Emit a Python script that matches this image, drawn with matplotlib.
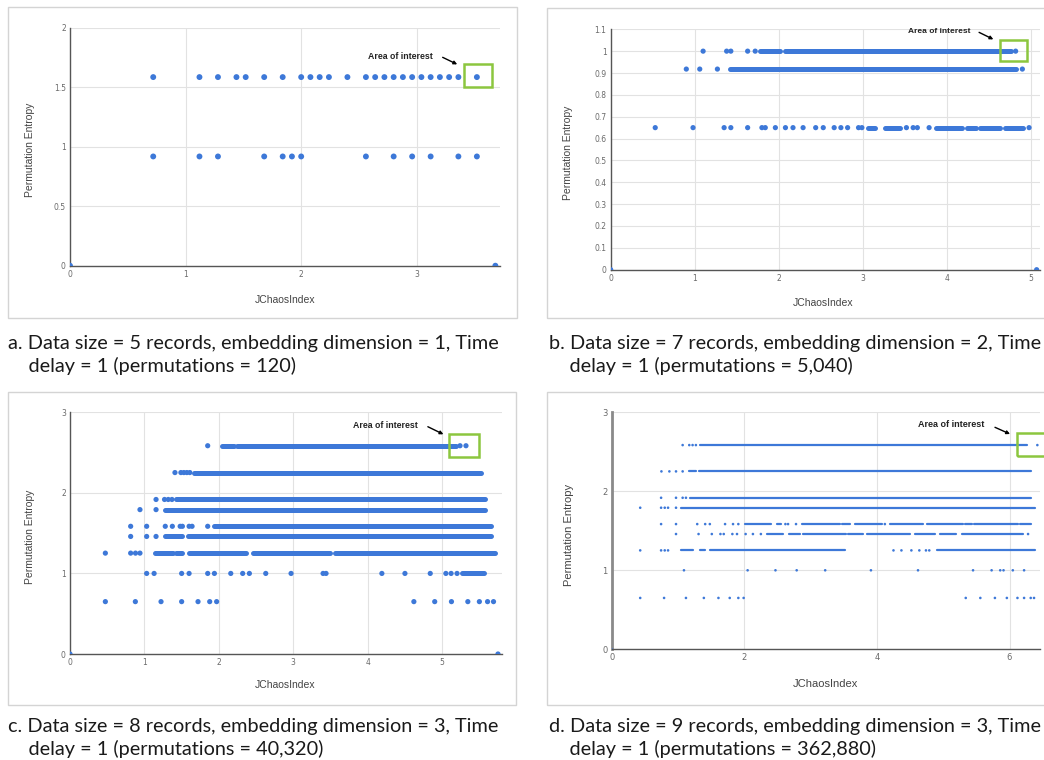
import matplotlib
matplotlib.use("Agg")
import matplotlib.pyplot as plt
from matplotlib.patches import Rectangle

W, H = 1044, 760
BLUE = "#3d78d8"
GREEN = "#8cc63f"
GRID = "#e2e2e2"

# Entropy levels (rows) -------------------------------------------------------
LV_A = [1.585, 0.918]
LV_B = [1.0, 0.918, 0.65]
LV_CD = [2.585, 2.252, 1.918, 1.792, 1.585, 1.459, 1.252, 1.0, 0.65]

# Panel a : isolated points per level
a_points = [
    [0.72, 1.12, 1.28, 1.44, 1.52, 1.68, 1.84, 2.00, 2.08, 2.16, 2.24, 2.40,
     2.56, 2.64, 2.72, 2.80, 2.88, 2.96, 3.04, 3.12, 3.20, 3.28, 3.36, 3.52],
    [0.72, 1.12, 1.28, 1.68, 1.84, 1.92, 2.00, 2.56, 2.80, 2.96, 3.12, 3.36, 3.52],
]
a_zero = [0.0, 3.68]

# Panel b : isolated points and dense runs per level
b_points = [
    [1.10, 1.38, 1.43, 1.63, 1.72, 4.82],
    [0.90, 1.06, 1.27, 4.90],
    [0.53, 0.98, 1.35, 1.43, 1.63, 1.80, 1.84, 1.96, 2.08, 2.17, 2.29, 2.44,
     2.53, 2.66, 2.74, 2.82, 2.95, 2.99, 3.52, 3.60, 3.65, 3.79, 4.98],
]
b_runs = [
    [(1.78, 2.02), (2.08, 4.76)],
    [(1.42, 4.83)],
    [(3.06, 3.15), (3.27, 3.44), (3.87, 4.18), (4.24, 4.35), (4.40, 4.63), (4.69, 4.91)],
]
b_zero = [0.0, 5.07]

# Panel c
c_points = [
    [1.85, 5.24, 5.32],
    [1.41, 1.49, 1.53, 1.57, 1.61],
    [1.156, 1.27, 1.32, 1.37],
    [0.94, 1.156],
    [0.815, 1.03, 1.28, 1.375, 1.48, 1.51, 1.60, 1.64, 1.85],
    [0.815, 1.03, 1.156],
    [0.475, 0.815, 0.88, 0.94],
    [1.03, 1.13, 1.50, 1.60, 1.85, 1.94, 2.16, 2.32, 2.41, 2.63, 2.97, 3.40,
     3.44, 4.19, 4.50, 4.84, 5.05, 5.12, 5.20],
    [0.475, 0.878, 1.223, 1.50, 1.72, 1.877, 1.97, 4.62, 4.90, 5.125, 5.345,
     5.50, 5.61, 5.69],
]
c_runs = [
    [(2.04, 2.20), (2.25, 5.18)],
    [(1.67, 5.52)],
    [(1.42, 5.58)],
    [(1.27, 5.58)],
    [(1.93, 5.65)],
    [(1.27, 1.51), (1.58, 5.65)],
    [(1.14, 1.38), (1.43, 1.51), (1.60, 2.36), (2.46, 3.49), (3.56, 5.71)],
    [(5.26, 5.56)],
    [],
]
c_zero = [0.0, 5.75]

# Panel d
d_points = [
    [1.07, 1.17, 1.22, 1.27, 6.42],
    [0.75, 0.87, 0.97, 1.07],
    [0.745, 0.97, 1.07, 1.12],
    [0.43, 0.745, 0.80, 0.85, 0.97],
    [0.745, 0.97, 1.29, 1.41, 1.48, 1.71, 1.83, 1.91, 2.62, 2.66, 2.78, 4.12],
    [0.97, 1.31, 1.51, 1.64, 1.69, 1.82, 1.89, 2.02, 2.13, 2.25, 6.28],
    [0.43, 0.745, 0.80, 0.85, 4.25, 4.37, 4.52, 4.64, 4.74, 4.79],
    [1.09, 2.05, 2.47, 2.79, 3.22, 3.91, 4.62, 5.45, 5.73, 5.86, 5.91, 6.05, 6.22],
    [0.43, 0.79, 1.12, 1.39, 1.61, 1.78, 1.91, 1.99, 5.34, 5.56, 5.78, 5.96,
     6.12, 6.22, 6.32, 6.37],
]
d_runs = [
    [(1.33, 6.27)],
    [(1.16, 1.27), (1.31, 6.33)],
    [(1.18, 6.33)],
    [(1.05, 6.38)],
    [(2.01, 2.41), (2.49, 2.56), (2.87, 3.44), (3.48, 3.59), (3.67, 4.07),
     (4.20, 4.70), (4.75, 5.30), (5.33, 5.43), (5.46, 6.13), (6.16, 6.33)],
    [(2.34, 2.59), (2.68, 2.84), (2.89, 3.54), (3.57, 3.79), (3.85, 4.50),
     (4.58, 4.88), (4.95, 5.20), (5.28, 6.21)],
    [(1.05, 1.23), (1.33, 1.41), (1.48, 3.52), (4.90, 6.38)],
    [],
    [],
]
d_zero = [0.0]

captions = [
    "a. Data size = 5 records, embedding dimension = 1, Time\n    delay = 1 (permutations = 120)",
    "b. Data size = 7 records, embedding dimension = 2, Time\n    delay = 1 (permutations = 5,040)",
    "c. Data size = 8 records, embedding dimension = 3, Time\n    delay = 1 (permutations = 40,320)",
    "d. Data size = 9 records, embedding dimension = 3, Time\n    delay = 1 (permutations = 362,880)",
]

plt.rcParams["font.family"] = ["Liberation Sans", "DejaVu Sans"]
fig = plt.figure(figsize=(W / 100, H / 100), dpi=100)
fig.patch.set_facecolor("white")


def fx(x):
    return x / W


def fy(y):
    return 1 - y / H


def frame(x0, y0, x1, y1):
    fig.patches.append(Rectangle((fx(x0), fy(y1)), fx(x1 - x0), (y1 - y0) / H,
                                 transform=fig.transFigure, fill=False,
                                 edgecolor="#d4d4d4", lw=1.0, zorder=0))


def make_ax(l, r, t, b, xlim, ylim, xticks, yticks, tick_fs, spine_lw=1.0,
            spine_col="#555555"):
    ax = fig.add_axes([fx(l), fy(b), fx(r - l), (b - t) / H])
    ax.set_xlim(*xlim)
    ax.set_ylim(*ylim)
    ax.set_xticks(xticks)
    ax.set_yticks(yticks)
    ax.set_xticklabels([f"{v:g}" for v in xticks])
    ax.set_yticklabels([f"{v:g}" for v in yticks])
    ax.tick_params(length=0, labelsize=tick_fs, labelcolor="#6a6a6a", pad=3)
    for lab in ax.get_xticklabels() + ax.get_yticklabels():
        lab.set_family(["DejaVu Sans"])
    ax.grid(True, color=GRID, lw=0.8)
    ax.set_axisbelow(True)
    for s in ("top", "right"):
        ax.spines[s].set_visible(False)
    ax.spines["left"].set_color(spine_col)
    ax.spines["left"].set_linewidth(spine_lw)
    ax.spines["bottom"].set_color("#555555")
    ax.spines["bottom"].set_linewidth(1.0)
    return ax


def draw(ax, levels, points, runs, zero, ms, lw):
    for i, lv in enumerate(levels):
        if runs is not None:
            for (x0, x1) in runs[i]:
                ax.plot([x0, x1], [lv, lv], color=BLUE, lw=lw,
                        solid_capstyle="round", zorder=3)
        ax.scatter(points[i], [lv] * len(points[i]), s=ms, color=BLUE,
                   edgecolors="none", zorder=3)
    ax.scatter(zero, [0] * len(zero), s=ms, color=BLUE, edgecolors="none", zorder=3)


def interest(ax, box, text_xy, arrow_from, arrow_to, fs):
    (bx0, by0, bx1, by1) = box
    ax.add_patch(Rectangle((bx0, by0), bx1 - bx0, by1 - by0, fill=False,
                           edgecolor=GREEN, lw=1.8, zorder=5, clip_on=False))
    ax.text(text_xy[0], text_xy[1], "Area of interest", ha="right", va="center",
            fontsize=fs, fontweight="bold", color="#222222", zorder=6)
    ax.annotate("", xy=arrow_to, xytext=arrow_from,
                arrowprops=dict(arrowstyle="-|>", color="black", lw=1.0,
                                mutation_scale=5, shrinkA=0, shrinkB=0),
                annotation_clip=False, zorder=6)


# frames
frame(8, 7, 517, 318)
frame(547, 8, 1060, 318)
frame(8, 392, 516, 705)
frame(547, 392, 1060, 705)

LAB = "#444444"

# Panel a
ax = make_ax(70, 500, 27.7, 265.7, (0, 3.72), (0, 2), [0, 1, 2, 3],
             [0, 0.5, 1, 1.5, 2], 5.5)
draw(ax, LV_A, a_points, None, a_zero, 18, 4.2)
interest(ax, (3.41, 1.504, 3.648, 1.692), (3.136, 1.762), (3.224, 1.751), (3.35, 1.692), 6.3)
fig.text(fx(30), fy(150), "Permutation Entropy", rotation=90, ha="center", va="center",
         fontsize=7.5, color=LAB)
fig.text(fx(285), fy(300), "JChaosIndex", ha="center", va="center", fontsize=7.5, color=LAB)

# Panel b
ax = make_ax(610.7, 1040, 29.3, 269.7, (0, 5.11), (0, 1.1), [0, 1, 2, 3, 4, 5],
             [0, 0.1, 0.2, 0.3, 0.4, 0.5, 0.6, 0.7, 0.8, 0.9, 1.0, 1.1], 5.5)
draw(ax, LV_B, b_points, b_runs, b_zero, 14, 3.6)
interest(ax, (4.634, 0.955, 4.96, 1.051), (4.277, 1.089), (4.385, 1.086), (4.555, 1.054), 6.0)
fig.text(fx(568), fy(153), "Permutation Entropy", rotation=90, ha="center", va="center",
         fontsize=7.5, color=LAB)
fig.text(fx(823), fy(303), "JChaosIndex", ha="center", va="center", fontsize=7.5, color=LAB)

# Panel c
ax = make_ax(70, 501.7, 412.3, 654, (0, 5.80), (0, 3), [0, 1, 2, 3, 4, 5],
             [0, 1, 2, 3], 5.5)
draw(ax, LV_CD, c_points, c_runs, c_zero, 14, 3.6)
interest(ax, (5.098, 2.449, 5.497, 2.731), (4.673, 2.834), (4.808, 2.821), (5.017, 2.727), 6.3)
fig.text(fx(30), fy(537), "Permutation Entropy", rotation=90, ha="center", va="center",
         fontsize=7.5, color=LAB)
fig.text(fx(285), fy(685), "JChaosIndex", ha="center", va="center", fontsize=7.5, color=LAB)

# Panel d
ax = make_ax(611.7, 1040, 412.3, 649.3, (0, 6.46), (0, 3), [0, 2, 4, 6],
             [0, 1, 2, 3], 6.0, spine_lw=2.0, spine_col="#8a8a8a")
draw(ax, LV_CD, d_points, d_runs, d_zero, 3.5, 1.6)
interest(ax, (6.118, 2.447, 6.8, 2.742), (5.615, 2.848), (5.781, 2.81), (6.008, 2.725), 6.5)
fig.text(fx(569), fy(535), "Permutation Entropy", rotation=90, ha="center", va="center",
         fontsize=8, color=LAB)
fig.text(fx(825), fy(684), "JChaosIndex", ha="center", va="center", fontsize=8, color=LAB)

# Captions
cap_kw = dict(ha="left", va="baseline", fontsize=14.3, color="#1a1a1a", linespacing=1.3,
              family=["Lato", "DejaVu Sans"])
fig.text(fx(8), fy(372), captions[0], **cap_kw)
fig.text(fx(549), fy(372), captions[1], **cap_kw)
fig.text(fx(8), fy(755), captions[2], **cap_kw)
fig.text(fx(549), fy(755), captions[3], **cap_kw)

fig.savefig("out.png", dpi=100, facecolor="white")
